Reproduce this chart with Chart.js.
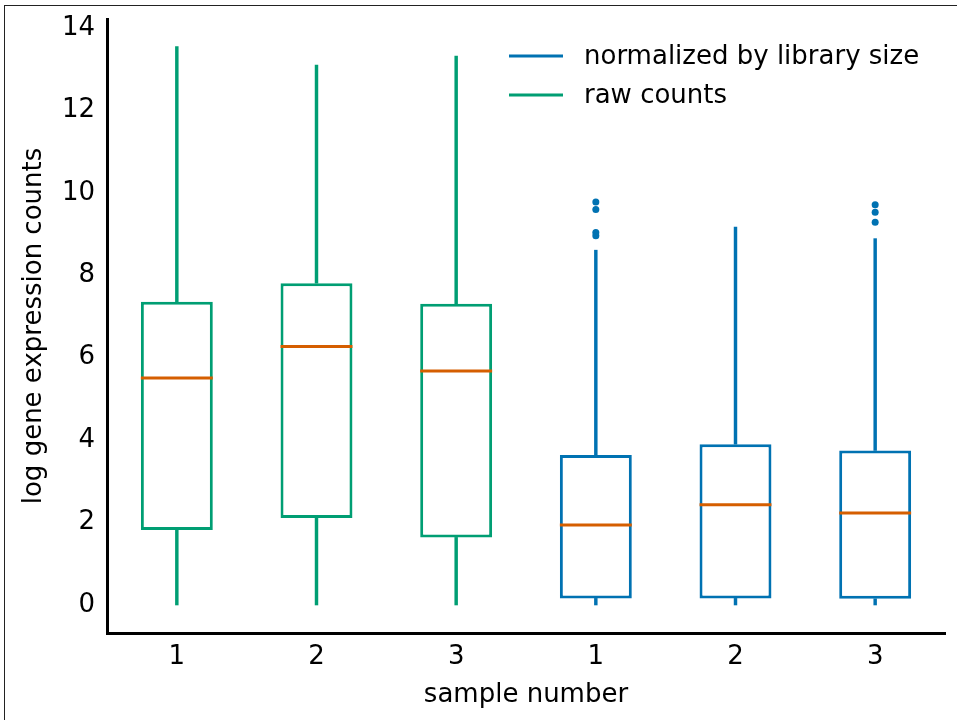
<!DOCTYPE html>
<html>
<head>
<meta charset="utf-8">
<script src="https://cdn.jsdelivr.net/npm/chart.js@4"></script>
<style>
  html, body { margin: 0; padding: 0; background: #fff; }
  #wrap { position: relative; width: 957px; height: 720px; }
  #frame { position: absolute; left: 4px; top: 5px; right: -10px; bottom: -10px;
           border-left: 1px solid #222; border-top: 1px solid #222; pointer-events: none; }
</style>
</head>
<body>
<div id="wrap">
  <canvas id="c"></canvas>
  <div id="frame"></div>
</div>
<script>
// ---- data ----
const categories   = ['1', '2', '3', '1', '2', '3'];
const groups       = ['raw counts', 'raw counts', 'raw counts',
                      'normalized by library size', 'normalized by library size', 'normalized by library size'];
const whiskerLow   = [0, 0, 0, 0, 0, 0];
const q1           = [1.82, 2.11, 1.64, 0.16, 0.16, 0.15];
const median       = [5.51, 6.27, 5.68, 1.94, 2.43, 2.23];
const q3           = [7.36, 7.81, 7.31, 3.64, 3.90, 3.75];
const whiskerHigh  = [13.55, 13.10, 13.32, 8.61, 9.17, 8.89];
const outliers     = [[], [], [], [8.96, 9.04, 9.60, 9.78], [], [9.29, 9.53, 9.71]];
const yTicks       = [0, 2, 4, 6, 8, 10, 12, 14];
const legendOrder  = ['normalized by library size', 'raw counts'];

// ---- styles ----
const groupColor = { 'raw counts': '#009E73', 'normalized by library size': '#0072B2' };
const medianColor = '#D55E00';
const FONT = { family: 'DejaVu Sans', size: 26 };
const boxColors = groups.map(g => groupColor[g]);

// outlier datasets: k-th outlier of each category (null where none)
const maxOut = Math.max(...outliers.map(a => a.length));
const outlierSets = [];
for (let k = 0; k < maxOut; k++) {
  outlierSets.push({
    type: 'line',
    label: 'outliers ' + k,
    data: outliers.map(a => (k < a.length ? a[k] : null)),
    showLine: false,
    pointBackgroundColor: boxColors,
    pointBorderWidth: 0,
    pointRadius: 3.5,
    order: 1
  });
}

const medianPlugin = {
  id: 'medians',
  afterDatasetsDraw(chart) {
    const meta = chart.getDatasetMeta(2);
    const y = chart.scales.y;
    const ctx = chart.ctx;
    ctx.save();
    ctx.strokeStyle = medianColor;
    ctx.lineWidth = 3;
    meta.data.forEach((bar, i) => {
      const py = y.getPixelForValue(median[i]);
      ctx.beginPath();
      ctx.moveTo(bar.x - bar.width / 2, py);
      ctx.lineTo(bar.x + bar.width / 2, py);
      ctx.stroke();
    });
    ctx.restore();
  }
};

const legendPlugin = {
  id: 'boxLegend',
  afterDraw(chart) {
    const { right, top } = chart.chartArea;
    const ctx = chart.ctx;
    ctx.save();
    ctx.font = FONT.size + 'px ' + FONT.family;
    ctx.textBaseline = 'middle';
    ctx.textAlign = 'left';
    legendOrder.forEach((name, k) => {
      const yy = top + 37 + k * 39;
      ctx.strokeStyle = groupColor[name];
      ctx.lineWidth = 3;
      ctx.beginPath();
      ctx.moveTo(right - 436, yy);
      ctx.lineTo(right - 382, yy);
      ctx.stroke();
      ctx.fillStyle = '#000';
      ctx.fillText(name, right - 361, yy + 1);
    });
    ctx.restore();
  }
};

new Chart(document.getElementById('c'), {
  type: 'bar',
  data: {
    labels: categories,
    datasets: [
      {
        label: 'whisker low',
        data: whiskerLow.map((v, i) => [v, q1[i]]),
        backgroundColor: boxColors, borderWidth: 0,
        barThickness: 2.8, grouped: false, order: 3
      },
      {
        label: 'whisker high',
        data: whiskerHigh.map((v, i) => [q3[i], v]),
        backgroundColor: boxColors, borderWidth: 0,
        barThickness: 2.8, grouped: false, order: 3
      },
      {
        label: 'box',
        data: q1.map((v, i) => [v, q3[i]]),
        backgroundColor: 'rgba(255,255,255,1)', borderColor: boxColors,
        borderWidth: 3, borderSkipped: false,
        barPercentage: 0.515, categoryPercentage: 1, grouped: false, order: 2
      },
      ...outlierSets
    ]
  },
  options: {
    responsive: true,
    maintainAspectRatio: false,
    animation: false,
    layout: { padding: { left: 0, top: 19, right: 12, bottom: 0 } },
    plugins: { legend: { display: false }, tooltip: { enabled: false } },
    scales: {
      x: {
        type: 'category',
        offset: true,
        grid: { display: false, drawTicks: false },
        border: { display: true, color: '#000', width: 3 },
        ticks: { color: '#000', font: FONT, padding: 9, maxRotation: 0 },
        title: { display: true, text: 'sample number', color: '#000', font: FONT, padding: { top: 0, bottom: 9 } },
        afterFit(scale) { scale.height = 87; scale.paddingLeft = 0; scale.paddingRight = 0; }
      },
      y: {
        type: 'linear',
        min: -0.68, max: 14.22,
        grid: { display: false, drawTicks: false },
        border: { display: true, color: '#000', width: 3 },
        ticks: { color: '#000', font: FONT, padding: 12 },
        afterBuildTicks(scale) { scale.ticks = yTicks.map(v => ({ value: v })); },
        title: { display: true, text: 'log gene expression counts', color: '#000', font: FONT, padding: { top: 19, bottom: 0 } },
        afterFit(scale) { scale.width = 107; scale.paddingTop = 0; scale.paddingBottom = 0; }
      }
    }
  },
  plugins: [medianPlugin, legendPlugin]
});
</script>
</body>
</html>
